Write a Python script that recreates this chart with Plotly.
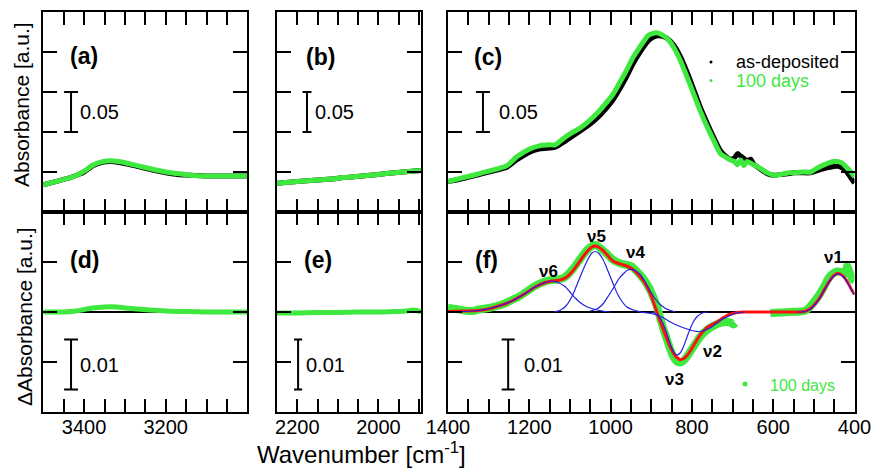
import plotly.graph_objects as go

W, H = 872, 468
FONT = "Liberation Sans, Arial, sans-serif"
GREEN = "#3ee83e"
BLUE = "#2020e0"
RED = "#ff1010"

# ---------------- data ----------------
# (a) O-H region
wn_a = [3500, 3470, 3440, 3418, 3400, 3377, 3355, 3336, 3315, 3295, 3270, 3237, 3200, 3171, 3140, 3098, 3050, 3000]
abs_a_100d = [-0.016, -0.012, -0.008, -0.004, 0.001, 0.009, 0.013, 0.014, 0.013, 0.011, 0.008, 0.004, 0.000, -0.002, -0.004, -0.005, -0.005, -0.005]
abs_a_asdep = [-0.016, -0.012, -0.008, -0.004, 0.000, 0.008, 0.012, 0.013, 0.012, 0.010, 0.007, 0.003, -0.001, -0.003, -0.004, -0.005, -0.005, -0.005]

# (b) 2250-1895 region
wn_b = [2250, 2200, 2150, 2103, 2088, 2060, 2021, 1980, 1940, 1895]
abs_b_100d = [-0.014, -0.012, -0.010, -0.008, -0.007, -0.006, -0.004, -0.002, 0.000, 0.002]
abs_b_asdep = [-0.014, -0.012, -0.010, -0.008, -0.007, -0.006, -0.004, -0.002, 0.000, 0.002]

# (c) 1400-400 region
wn_c = [1400, 1370, 1338, 1300, 1255, 1231, 1198, 1173, 1150, 1136, 1116, 1099, 1075, 1055, 1034, 1010,
        993, 975, 960, 945, 927, 915, 907, 897, 888, 875, 861, 845, 829, 812, 796, 780, 763, 745, 730,
        715, 705, 695, 688, 680, 672, 665, 655, 648, 630, 615, 599, 580, 560, 550, 530, 508, 495, 484,
        470, 460, 451, 440, 430, 422, 412, 400]
abs_c_100d = [-0.012, -0.008, -0.004, 0.001, 0.008, 0.019, 0.029, 0.033, 0.034, 0.034, 0.042, 0.048, 0.055,
              0.063, 0.073, 0.087, 0.098, 0.114, 0.128, 0.143, 0.157, 0.166, 0.171, 0.173, 0.174, 0.172,
              0.167, 0.156, 0.140, 0.119, 0.098, 0.077, 0.057, 0.038, 0.023, 0.018, 0.015, 0.013, 0.009,
              0.015, 0.008, 0.013, 0.011, 0.009, 0.004, -0.001, -0.004, -0.003, -0.001, -0.001, 0.000,
              0.000, 0.004, 0.007, 0.010, 0.012, 0.013, 0.013, 0.011, 0.007, 0.002, -0.006]
abs_c_asdep = [-0.012, -0.009, -0.005, 0.000, 0.006, 0.015, 0.025, 0.029, 0.030, 0.031, 0.037, 0.043, 0.051,
               0.058, 0.067, 0.080, 0.091, 0.106, 0.120, 0.135, 0.150, 0.159, 0.164, 0.168, 0.170, 0.170,
               0.167, 0.159, 0.145, 0.125, 0.104, 0.082, 0.062, 0.042, 0.027, 0.019, 0.016, 0.018, 0.023,
               0.020, 0.017, 0.014, 0.016, 0.010, 0.003, -0.002, -0.004, -0.003, -0.002, -0.001, -0.001,
               -0.001, 0.001, 0.003, 0.005, 0.006, 0.007, 0.007, 0.005, 0.002, -0.005, -0.014]

# (d) difference, O-H region
wn_d = [3500, 3450, 3420, 3400, 3380, 3350, 3320, 3300, 3270, 3240, 3200, 3150, 3100, 3050, 3000]
dabs_d = [0.0, 0.0, 0.0002, 0.0005, 0.0008, 0.0010, 0.0010, 0.0008, 0.0006, 0.0004, 0.0002, 0.0001, 0.0, 0.0, 0.0]

# (e) difference, 2250-1895
wn_e = [2250, 2200, 2150, 2100, 2050, 2000, 1960, 1930, 1915, 1905, 1895]
dabs_e = [-0.0002, -0.0002, -0.0001, -0.0001, 0.0, 0.0, 0.0001, 0.0002, 0.0004, 0.0003, 0.0]

# (f) difference 1400-400 (data gap between 693 and 607)
wn_f = [1400, 1380, 1360, 1338, 1325, 1300, 1284, 1260, 1243, 1225, 1210, 1186, 1161, 1145, 1130, 1116,
        1105, 1091, 1080, 1067, 1055, 1046, 1038, 1030, 1020, 1009, 995, 976, 960, 948, 935, 919, 905,
        894, 885, 878, 870, 861, 853, 845, 837, 829, 820, 812, 800, 787, 775, 763, 750, 738, 726, 714,
        705, 698, 693, None, 607, 580, 560, 533, 520, 508, 496, 484, 474, 463, 453, 443, 432, 422, 418,
        412, 406, 400]
dabs_f = [0.0008, 0.0006, 0.0003, 0.0002, 0.0005, 0.0008, 0.0011, 0.0017, 0.0024, 0.0031, 0.0039, 0.0052,
          0.0061, 0.0064, 0.0065, 0.0068, 0.0075, 0.0088, 0.0100, 0.0115, 0.0126, 0.0132, 0.0134, 0.0131,
          0.0124, 0.0116, 0.0105, 0.0097, 0.0094, 0.0091, 0.0081, 0.0066, 0.0048, 0.0028, 0.0008, -0.0012,
          -0.0034, -0.0056, -0.0075, -0.0090, -0.0099, -0.0101, -0.0097, -0.0089, -0.0074, -0.0058,
          -0.0045, -0.0036, -0.0029, -0.0024, -0.0021, -0.0020, -0.0021, -0.0025, -0.0022, None,
          -0.0002, -0.0001, 0.0, 0.0001, 0.0003, 0.0012, 0.0024, 0.0038, 0.0052, 0.0069, 0.0077, 0.0081,
          0.0080, 0.0078, 0.0092, 0.0080, 0.0066, 0.0062]

# total fit
wn_fit = [1400, 1360, 1325, 1300, 1284, 1260, 1243, 1225, 1210, 1186, 1161, 1145, 1130, 1120, 1108, 1095,
          1083, 1071, 1058, 1046, 1038, 1030, 1020, 1013, 1003, 993, 980, 968, 958, 948, 938, 927, 918,
          911, 904, 898, 890, 882, 870, 861, 853, 845, 837, 829, 820, 812, 804, 796, 787, 779, 770, 763,
          750, 738, 726, 714, 700, 689, 670, 640, 607, 560, 533, 520, 508, 496, 484, 474, 463, 453, 443,
          435, 426, 416, 406, 400]
dabs_fit = [0.0001, 0.0002, 0.0003, 0.0006, 0.0010, 0.0016, 0.0022, 0.0030, 0.0037, 0.0050, 0.0059, 0.0062,
            0.0063, 0.0065, 0.0070, 0.0080, 0.0093, 0.0107, 0.0121, 0.0130, 0.0132, 0.0130, 0.0124, 0.0118,
            0.0109, 0.0101, 0.0097, 0.0094, 0.0091, 0.0087, 0.0080, 0.0070, 0.0061, 0.0051, 0.0040, 0.0028,
            0.0009, -0.0010, -0.0036, -0.0055, -0.0070, -0.0083, -0.0091, -0.0095, -0.0093, -0.0087,
            -0.0078, -0.0067, -0.0055, -0.0045, -0.0037, -0.0031, -0.0025, -0.0020, -0.0013, -0.0007,
            -0.0003, -0.0001, 0.0, 0.0, 0.0, 0.0, 0.0, 0.0002, 0.0007, 0.0017, 0.0030, 0.0045, 0.0060,
            0.0071, 0.0077, 0.0076, 0.0070, 0.0058, 0.0043, 0.0035]

# fitted components
wn_v6 = [1400, 1360, 1325, 1284, 1243, 1210, 1186, 1161, 1145, 1130, 1112, 1100, 1087, 1075, 1062, 1050, 1038, 1020, 1000]
v6 = [0.0, 0.0001, 0.0003, 0.0010, 0.0022, 0.0037, 0.0050, 0.0059, 0.0062, 0.0059, 0.0051, 0.0040, 0.0028,
      0.0019, 0.0012, 0.0008, 0.0005, 0.0002, 0.0]
wn_v5 = [1140, 1125, 1110, 1095, 1083, 1071, 1058, 1046, 1038, 1030, 1020, 1013, 1003, 993, 983, 972, 960, 944, 925]
v5 = [0.0, 0.0003, 0.0012, 0.0031, 0.0054, 0.0078, 0.0102, 0.0118, 0.0121, 0.0118, 0.0107, 0.0095, 0.0075,
      0.0055, 0.0036, 0.0021, 0.0010, 0.0004, 0.0]
wn_v4 = [1050, 1034, 1020, 1007, 993, 980, 968, 958, 948, 938, 927, 915, 902, 890, 878, 865, 853, 840]
v4 = [0.0002, 0.0006, 0.0015, 0.0030, 0.0048, 0.0066, 0.0077, 0.0084, 0.0085, 0.0082, 0.0075, 0.0060, 0.0041,
      0.0026, 0.0015, 0.0007, 0.0003, 0.0]
wn_v3 = [900, 885, 878, 870, 861, 853, 845, 837, 829, 820, 812, 804, 796, 787, 779, 770, 760]
v3 = [0.0, -0.0005, -0.0012, -0.0025, -0.0045, -0.0065, -0.0080, -0.0086, -0.0082, -0.0068, -0.0050, -0.0033,
      -0.0019, -0.0009, -0.0004, -0.0001, 0.0]
wn_v2 = [930, 900, 880, 865, 853, 835, 812, 795, 783, 770, 758, 747, 735, 725, 714, 700, 689, 670]
v2 = [0.0, -0.0003, -0.0008, -0.0014, -0.0020, -0.0027, -0.0034, -0.0038, -0.0039, -0.0037, -0.0033, -0.0027,
      -0.0020, -0.0014, -0.0010, -0.0005, -0.0002, 0.0]
wn_v1 = [540, 520, 508, 496, 484, 474, 463, 453, 443, 435, 426, 416, 406, 400]
v1 = [0.0, 0.0001, 0.0006, 0.0016, 0.0029, 0.0044, 0.0059, 0.0070, 0.0076, 0.0075, 0.0069, 0.0057, 0.0042, 0.0034]

# axis settings
x_ranges = [[3500, 3000], [2250, 1895], [1400, 400]]
x_minor_step = 50
x_labels = [[3400, 3200], [2200, 2000], [1400, 1200, 1000, 800, 600, 400]]
y_range_top = [-0.05, 0.2]
y_range_bot = [-0.02, 0.02]
scale_top = 0.05
scale_bot = 0.01

# mode labels in (f)
mode_names = ["ν6", "ν5", "ν4", "ν3", "ν2", "ν1"]

# ---------------- layout helpers ----------------
def px(x):
    return x / W


def py(y):
    return 1 - y / H


col_dom = [[px(43.3), px(247.3)], [px(277), px(421)], [px(448), px(854.5)]]
row_dom = [[py(212), py(12)], [py(412), py(212)]]

fig = go.Figure()


def ax(i):
    return ("x" if i == 1 else f"x{i}"), ("y" if i == 1 else f"y{i}")


def line(i, x, y, color, width, shape="spline"):
    xa, ya = ax(i)
    fig.add_trace(go.Scatter(x=x, y=y, mode="lines", xaxis=xa, yaxis=ya,
                             line=dict(color=color, width=width, shape=shape, smoothing=0.6),
                             connectgaps=False, showlegend=False, hoverinfo="skip"))


# top row
line(1, wn_a, abs_a_asdep, "black", 5)
line(1, wn_a, abs_a_100d, GREEN, 5)
line(2, wn_b, abs_b_asdep, "black", 5)
line(2, wn_b, abs_b_100d, GREEN, 5)
line(3, wn_c, abs_c_asdep, "black", 5)
line(3, wn_c, abs_c_100d, GREEN, 5)
# bottom row
line(4, wn_d, dabs_d, GREEN, 5)
line(5, wn_e, dabs_e, GREEN, 5)
line(6, wn_f, dabs_f, GREEN, 8)
line(6, wn_fit, dabs_fit, RED, 3)
for wv, vv in [(wn_v6, v6), (wn_v5, v5), (wn_v4, v4), (wn_v3, v3), (wn_v2, v2), (wn_v1, v1)]:
    line(6, wv, vv, BLUE, 1.2)

layout = dict(width=W, height=H, margin=dict(l=0, r=0, t=0, b=0),
              paper_bgcolor="white", plot_bgcolor="white", showlegend=False,
              font=dict(family=FONT, color="black", size=20))

for i in range(1, 7):
    col = (i - 1) % 3
    row = (i - 1) // 3
    lo, hi = min(x_ranges[col]), max(x_ranges[col])
    vals = list(range(int(lo // x_minor_step * x_minor_step), int(hi) + 1, x_minor_step))
    vals = [v for v in vals if lo <= v <= hi]
    texts = [str(v) if (row == 1 and v in x_labels[col]) else "" for v in vals]
    xa_key = "xaxis" if i == 1 else f"xaxis{i}"
    ya_key = "yaxis" if i == 1 else f"yaxis{i}"
    xa, ya = ax(i)
    layout[xa_key] = dict(domain=col_dom[col], range=x_ranges[col], anchor=ya,
                          tickmode="array", tickvals=vals, ticktext=texts, tickangle=0,
                          showticklabels=(row == 1), ticklabelstandoff=-4,
                          ticks="inside", ticklen=13, tickwidth=2, tickcolor="black",
                          showline=True, linecolor="black", linewidth=2, mirror="ticks",
                          showgrid=False, zeroline=False, automargin=False,
                          tickfont=dict(size=20, family=FONT, color="black"))
    yr = y_range_top if row == 0 else y_range_bot
    layout[ya_key] = dict(domain=row_dom[row], range=yr, anchor=xa,
                          dtick=scale_top if row == 0 else scale_bot, tick0=0,
                          ticks="inside", ticklen=14, tickwidth=2, tickcolor="black",
                          showticklabels=False,
                          showline=True, linecolor="black", linewidth=2, mirror="ticks",
                          showgrid=False, automargin=False,
                          zeroline=(row == 1), zerolinecolor="black", zerolinewidth=2)

fig.update_layout(**layout)

# ---------------- scale bars ----------------
shapes = []
annots = []


def scale_bar(i, xc, half, y0, y1, label, lx):
    xa, ya = ax(i)
    for (a, b, c, d) in [(xc, y0, xc, y1), (xc - half, y0, xc + half, y0), (xc - half, y1, xc + half, y1)]:
        shapes.append(dict(type="line", xref=xa, yref=ya, x0=a, y0=b, x1=c, y1=d,
                           line=dict(color="black", width=2)))
    annots.append(dict(xref=xa, yref=ya, x=lx, y=(y0 + y1) / 2, text=label, showarrow=False,
                       xanchor="left", yanchor="middle", font=dict(size=20, family=FONT, color="black")))


scale_bar(1, 3432, 17, 0.05, 0.05 + scale_top, "0.05", 3414)
scale_bar(2, 2176, 11, 0.05, 0.05 + scale_top, "0.05", 2162)
scale_bar(3, 1314, 17, 0.05, 0.05 + scale_top, "0.05", 1280)
scale_bar(4, 3432, 17, -0.0155, -0.0155 + scale_bot, "0.01", 3414)
scale_bar(5, 2198, 10, -0.0155, -0.0155 + scale_bot, "0.01", 2184)
scale_bar(6, 1252, 16, -0.0155, -0.0155 + scale_bot, "0.01", 1218)

# panel letters
for lab, (x, y) in zip(["(a)", "(b)", "(c)", "(d)", "(e)", "(f)"],
                       [(84, 56), (320, 57), (488, 57), (84, 260), (318, 260), (486, 260)]):
    annots.append(dict(xref="paper", yref="paper", x=px(x), y=py(y), text=f"<b>{lab}</b>",
                       showarrow=False, xanchor="center", yanchor="middle",
                       font=dict(size=23, family=FONT, color="black")))

# mode labels
for lab, (x, y) in zip(mode_names, [(548, 271), (596, 236), (635, 252), (674, 379), (712, 351), (833, 257)]):
    annots.append(dict(xref="paper", yref="paper", x=px(x), y=py(y), text=f"<b>{lab}</b>",
                       showarrow=False, xanchor="center", yanchor="middle",
                       font=dict(size=17, family=FONT, color="black")))

# legends
shapes.append(dict(type="circle", xref="paper", yref="paper", x0=px(709.5), x1=px(712.5), y0=py(60.5), y1=py(63.5),
                   fillcolor="black", line=dict(width=0)))
shapes.append(dict(type="circle", xref="paper", yref="paper", x0=px(709.5), x1=px(712.5), y0=py(79), y1=py(82),
                   fillcolor=GREEN, line=dict(width=0)))
annots.append(dict(xref="paper", yref="paper", x=px(734), y=py(62), text="as-deposited", showarrow=False,
                   xanchor="left", yanchor="middle", font=dict(size=18, family=FONT, color="black")))
annots.append(dict(xref="paper", yref="paper", x=px(734), y=py(81), text="100 days", showarrow=False,
                   xanchor="left", yanchor="middle", font=dict(size=18, family=FONT, color=GREEN)))
shapes.append(dict(type="circle", xref="paper", yref="paper", x0=px(742.5), x1=px(747.5), y0=py(381.5), y1=py(386.5),
                   fillcolor=GREEN, line=dict(width=0)))
annots.append(dict(xref="paper", yref="paper", x=px(768), y=py(385), text="100 days", showarrow=False,
                   xanchor="left", yanchor="middle", font=dict(size=16, family=FONT, color=GREEN)))

# axis titles
annots.append(dict(xref="paper", yref="paper", x=px(22), y=py(105), text="Absorbance [a.u.]", showarrow=False,
                   textangle=-90, xanchor="center", yanchor="middle", font=dict(size=21, family=FONT, color="black")))
annots.append(dict(xref="paper", yref="paper", x=px(24), y=py(317), text="ΔAbsorbance [a.u.]", showarrow=False,
                   textangle=-90, xanchor="center", yanchor="middle", font=dict(size=21, family=FONT, color="black")))
annots.append(dict(xref="paper", yref="paper", x=px(361), y=py(470), text="Wavenumber [cm<sup>-1</sup>]",
                   showarrow=False, xanchor="center", yanchor="bottom",
                   font=dict(size=24, family=FONT, color="black")))

fig.update_layout(shapes=shapes, annotations=annots)
fig.write_html("out.html", config={"displayModeBar": False},
               post_script="document.body.style.margin='0';document.body.style.overflow='hidden';")
